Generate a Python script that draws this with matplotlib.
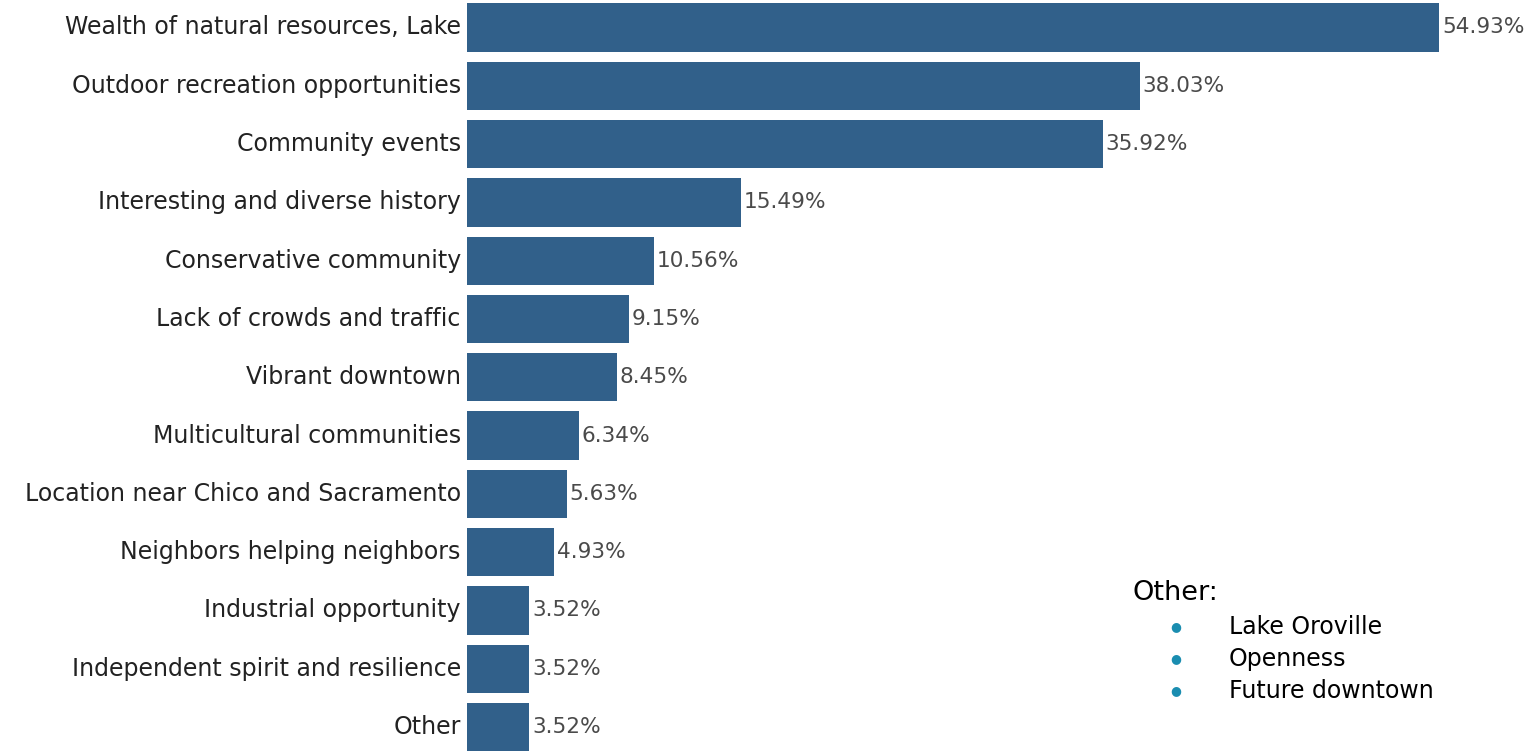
import matplotlib
matplotlib.use('Agg')
import matplotlib.pyplot as plt

# Survey responses, shares in percent
categories = ['Wealth of natural resources, Lake',
              'Outdoor recreation opportunities',
              'Community events',
              'Interesting and diverse history',
              'Conservative community',
              'Lack of crowds and traffic',
              'Vibrant downtown',
              'Multicultural communities',
              'Location near Chico and Sacramento',
              'Neighbors helping neighbors',
              'Industrial opportunity',
              'Independent spirit and resilience',
              'Other']
shares = [54.93, 38.03, 35.92, 15.49, 10.56, 9.15, 8.45,
          6.34, 5.63, 4.93, 3.52, 3.52, 3.52]
other_items = ['Lake Oroville', 'Openness', 'Future downtown']

W, H = 1540, 751
fig = plt.figure(figsize=(W/100, H/100), dpi=100, facecolor='white')

# Bars start at x=467px; one percent is ~17.7px; rows are ~58.3px apart
x0 = 467
pxpct = 17.70
row = 58.3
top = 27.5
ax = fig.add_axes([x0/W, 0, 1 - x0/W, 1])
ax.set_xlim(0, (W - x0)/pxpct)
ax.set_ylim((H - top)/row, -top/row)
ax.set_axis_off()

ypos = list(range(len(categories)))
ax.barh(ypos, shares, height=0.83, color='#31608a', edgecolor='none')

for y, cat, v in zip(ypos, categories, shares):
    ax.text(-0.35, y, cat, ha='right', va='center', fontsize=17,
            family='DejaVu Sans', color='#222222', clip_on=False)
    ax.text(v + 0.15, y, '%.2f%%' % v, ha='left', va='center',
            fontsize=15.6, family='DejaVu Sans', color='#4a4a4a')

# Side note listing the "Other" answers
fig.text(1133/W, 1 - 593/H, 'Other:', ha='left', va='center',
         fontsize=19.5, family='DejaVu Sans', color='black')
for i, item in enumerate(other_items):
    yy = 1 - (627 + 32*i)/H
    fig.text(1176/W, yy, '\u25cf', ha='center', va='center',
             fontsize=9, color='#1a8db0')
    fig.text(1229/W, yy, item, ha='left', va='center',
             fontsize=17, family='DejaVu Sans', color='black')

fig.savefig('out.png', dpi=100, facecolor='white')
